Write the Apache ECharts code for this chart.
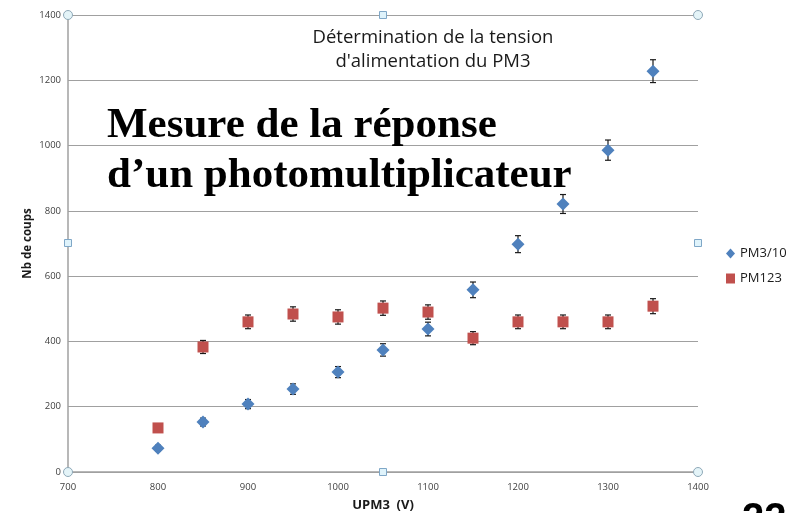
<!DOCTYPE html>
<html>
<head>
<meta charset="utf-8">
<script src="https://cdn.jsdelivr.net/npm/echarts@6/dist/echarts.min.js"></script>
<style>
  html, body { margin: 0; padding: 0; background: #fff; }
  #chart { width: 789px; height: 513px; }
</style>
</head>
<body>
<div id="chart"></div>
<script>
// données
var tensions = [800, 850, 900, 950, 1000, 1050, 1100, 1150, 1200, 1250, 1300, 1350];
var pm3 = [73, 153, 208, 254, 306, 374, 438, 558, 698, 821, 986, 1228];
var pm3Err = [9, 12, 14, 16, 17, 19, 21, 24, 26, 29, 31, 35];
var pm123 = [135, 383, 460, 484, 475, 502, 490, 410, 460, 460, 460, 508];
var pm123Err = [0, 20, 21, 22, 22, 22, 22, 20, 21, 21, 21, 23];
var yTicks = [0, 200, 400, 600, 800, 1000, 1200, 1400];

(function() {
  var myChart = echarts.init(document.getElementById("chart"));

  function points(ys) {
    return tensions.map(function(x, i) { return [x, ys[i]]; });
  }
  function bars(ys, errs) {
    return tensions.map(function(x, i) { return [x, ys[i] - errs[i], ys[i] + errs[i]]; });
  }
  function renderErr(params, api) {
    if (api.value(2) - api.value(1) <= 0) return null;
    var lo = api.coord([api.value(0), api.value(1)]);
    var hi = api.coord([api.value(0), api.value(2)]);
    var w = 3;
    var st = { stroke: "#1a1a1a", lineWidth: 1.2 };
    return {
      type: "group",
      children: [
        { type: "line", shape: { x1: lo[0], y1: lo[1], x2: hi[0], y2: hi[1] }, style: st },
        { type: "line", shape: { x1: lo[0] - w, y1: lo[1], x2: lo[0] + w, y2: lo[1] }, style: st },
        { type: "line", shape: { x1: hi[0] - w, y1: hi[1], x2: hi[0] + w, y2: hi[1] }, style: st }
      ]
    };
  }
  function plain(v) { return String(v); }

  // poignées de sélection (Excel)
  var handles = [];
  var hx = [68, 383, 698], hy = [15, 243, 472];
  hx.forEach(function(x, i) {
    hy.forEach(function(y, j) {
      if (i === 1 && j === 1) return;
      var corner = i !== 1 && j !== 1;
      if (corner) {
        handles.push({ type: "circle", shape: { cx: x, cy: y, r: 4.5 }, style: { fill: "#e4f4f8", stroke: "#8fa9b8", lineWidth: 1 }, z: 100 });
      } else {
        handles.push({ type: "rect", shape: { x: x - 3.5, y: y - 3.5, width: 7, height: 7 }, style: { fill: "#dff3fb", stroke: "#7fa7c7", lineWidth: 1 }, z: 100 });
      }
    });
  });

  var option = {
    animation: false,
    backgroundColor: "#fff",
    title: {
      text: "Détermination de la tension\nd'alimentation du PM3",
      left: 433,
      top: 26,
      padding: 0,
      textAlign: "center",
      textStyle: { fontFamily: "Open Sans", fontSize: 18.5, fontWeight: "normal", color: "#1a1a1a", lineHeight: 24 }
    },
    legend: {
      orient: "vertical",
      left: 726,
      top: 247,
      itemGap: 12,
      itemWidth: 9,
      itemHeight: 10,
      padding: 0,
      textStyle: { fontFamily: "Open Sans", fontSize: 13, color: "#1a1a1a" },
      data: [
        { name: "PM3/10", icon: "diamond" },
        { name: "PM123", icon: "rect" }
      ]
    },
    grid: { left: 68, right: 91, top: 15, bottom: 41, outerBoundsMode: "none" },
    xAxis: {
      type: "value",
      min: 700,
      max: 1400,
      interval: 100,
      name: "UPM3  (V)",
      nameLocation: "middle",
      nameGap: 27,
      nameTextStyle: { fontFamily: "Open Sans", fontSize: 13, fontWeight: "bold", color: "#1a1a1a" },
      axisLine: { lineStyle: { color: "#a0a0a0", width: 1.5 } },
      axisTick: { show: false },
      axisLabel: { fontFamily: "Open Sans", fontSize: 9.5, color: "#404040", margin: 10, formatter: plain },
      splitLine: { show: false }
    },
    yAxis: {
      type: "value",
      min: yTicks[0],
      max: yTicks[yTicks.length - 1],
      interval: 200,
      name: "Nb de coups",
      nameLocation: "middle",
      nameGap: 34,
      nameMoveOverlap: false,
      nameTextStyle: { fontFamily: "Open Sans", fontSize: 11.5, fontWeight: "bold", color: "#1a1a1a" },
      axisLine: { show: true, lineStyle: { color: "#a0a0a0", width: 1.5 } },
      axisTick: { show: false },
      axisLabel: { fontFamily: "Open Sans", fontSize: 9.5, color: "#404040", margin: 7, formatter: plain },
      splitLine: { lineStyle: { color: "#a0a0a0", width: 1 } }
    },
    graphic: handles.concat([
      {
        type: "text",
        left: 107,
        top: 101,
        z: 50,
        style: {
          text: "Mesure de la réponse\nd’un photomultiplicateur",
          font: "bold 43px 'Liberation Serif'",
          lineHeight: 50,
          fill: "#000"
        }
      },
      {
        type: "text",
        left: 742,
        top: 500,
        z: 50,
        style: { text: "22", font: "bold 40px 'Liberation Sans'", fill: "#000" }
      }
    ]),
    series: [
      {
        name: "PM3/10",
        type: "scatter",
        symbol: "diamond",
        symbolSize: 13,
        itemStyle: { color: "#4f81bd", opacity: 1 },
        data: points(pm3),
        z: 5
      },
      {
        name: "PM123",
        type: "scatter",
        symbol: "rect",
        symbolSize: 11,
        itemStyle: { color: "#c0504d", opacity: 1 },
        data: points(pm123),
        z: 5
      },
      {
        name: "err PM3",
        type: "custom",
        renderItem: renderErr,
        data: bars(pm3, pm3Err),
        encode: { x: 0, y: [1, 2] },
        z: 3
      },
      {
        name: "err PM123",
        type: "custom",
        renderItem: renderErr,
        data: bars(pm123, pm123Err),
        encode: { x: 0, y: [1, 2] },
        z: 3
      }
    ]
  };

  myChart.setOption(option);
})();
</script>
</body>
</html>
